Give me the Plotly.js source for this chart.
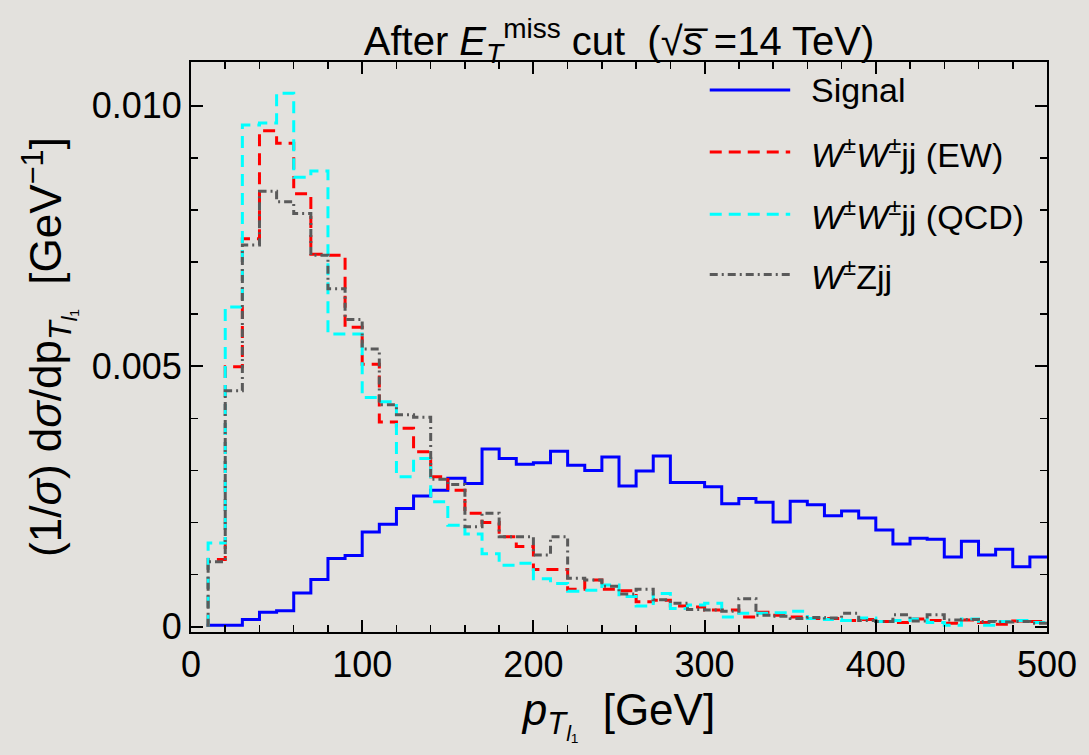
<!DOCTYPE html>
<html>
<head>
<meta charset="utf-8">
<script src="https://cdn.plot.ly/plotly-3.0.1.min.js"></script>
<style>
  html, body { margin: 0; padding: 0; background: #e3e1dd; }
  #chart { width: 1089px; height: 755px; }
</style>
</head>
<body>
<div id="chart"></div>
<script>
// Right edge of each 10 GeV bin of the leading-lepton pT histogram
const binRightEdges = [10, 20, 30, 40, 50, 60, 70, 80, 90, 100,
  110, 120, 130, 140, 150, 160, 170, 180, 190, 200,
  210, 220, 230, 240, 250, 260, 270, 280, 290, 300,
  310, 320, 330, 340, 350, 360, 370, 380, 390, 400,
  410, 420, 430, 440, 450, 460, 470, 480, 490, 500];

// Normalised distributions (1/sigma) dsigma/dpT [GeV^-1], one value per bin
const signal = [0, 0.00003, 0.00003, 0.00014, 0.00028, 0.00031, 0.00065, 0.00091, 0.00131, 0.00137,
  0.00182, 0.00197, 0.00227, 0.00251, 0.00262, 0.00285, 0.00275, 0.00341, 0.00323, 0.00312,
  0.00315, 0.00337, 0.00310, 0.00300, 0.00326, 0.00270, 0.00299, 0.00328, 0.00277, 0.00277,
  0.00269, 0.00236, 0.00246, 0.00239, 0.00201, 0.00241, 0.00234, 0.00213, 0.00222, 0.00209,
  0.00186, 0.00159, 0.00170, 0.00168, 0.00134, 0.00164, 0.00138, 0.00149, 0.00115, 0.00134];

const wwEW = [0, 0.00129, 0.00499, 0.00745, 0.00952, 0.00928, 0.00831, 0.00715, 0.00713, 0.00575,
  0.00504, 0.00393, 0.00381, 0.00336, 0.00288, 0.00262, 0.00218, 0.00200, 0.00173, 0.00154,
  0.00110, 0.00110, 0.00072, 0.00090, 0.00072, 0.00069, 0.00048, 0.00051, 0.00040, 0.00038,
  0.00032, 0.00032, 0.00019, 0.00028, 0.00022, 0.00019, 0.00016, 0.00016, 0.00012, 0.00014,
  0.00010, 0.00008, 0.00015, 0.00012, 0.00007, 0.00013, 0.00008, 0.00005, 0.00011, 0.00010];

const wwQCD = [0, 0.00161, 0.00614, 0.00963, 0.00967, 0.01024, 0.00863, 0.00875, 0.00562, 0.00562,
  0.00440, 0.00432, 0.00288, 0.00323, 0.00240, 0.00195, 0.00178, 0.00140, 0.00118, 0.00122,
  0.00092, 0.00083, 0.00068, 0.00070, 0.00080, 0.00058, 0.00040, 0.00064, 0.00035, 0.00042,
  0.00045, 0.00019, 0.00026, 0.00026, 0.00027, 0.00030, 0.00016, 0.00014, 0.00012, 0.00017,
  0.00010, 0.00012, 0.00015, 0.00008, 0.00003, 0.00015, 0.00003, 0.00010, 0.00012, 0.00008];

const wzJJ = [0, 0.00125, 0.00453, 0.00733, 0.00836, 0.00816, 0.00793, 0.00713, 0.00649, 0.00590,
  0.00533, 0.00426, 0.00407, 0.00402, 0.00283, 0.00273, 0.00192, 0.00218, 0.00173, 0.00173,
  0.00138, 0.00173, 0.00093, 0.00090, 0.00078, 0.00063, 0.00072, 0.00052, 0.00045, 0.00033,
  0.00032, 0.00030, 0.00054, 0.00022, 0.00020, 0.00016, 0.00018, 0.00017, 0.00026, 0.00012,
  0.00010, 0.00023, 0.00011, 0.00023, 0.00013, 0.00014, 0.00010, 0.00009, 0.00010, 0.00007];

const seriesNames = [
  'Signal',
  '<i>W</i><sup>±</sup><i>W</i><sup>±</sup>jj (EW)',
  '<i>W</i><sup>±</sup><i>W</i><sup>±</sup>jj (QCD)',
  '<i>W</i><sup>±</sup>Zjj'
];
const yTickVals = [0, 0.005, 0.010];
const yTickText = ['0', '0.005', '0.010'];

const FONT = 'Liberation Sans, Arial, Helvetica, sans-serif';

const styles = [
  { color: '#0000ff', width: 3, dash: 'solid' },
  { color: '#ff0000', width: 3, dash: '12px,7px' },
  { color: '#00ffff', width: 3, dash: '12px,7px' },
  { color: '#5a5a5a', width: 3, dash: '8px,4px,2px,4px' }
];
const series = [signal, wwEW, wwQCD, wzJJ];

// Step histograms: each y value is drawn flat over the bin ending at its x
const traces = series.map((vals, i) => ({
  type: 'scatter',
  mode: 'lines',
  x: binRightEdges,
  y: vals,
  line: { shape: 'vh', color: styles[i].color, width: styles[i].width, dash: styles[i].dash },
  showlegend: false,
  hoverinfo: 'skip'
}));

// Hand-built legend in the upper right corner (long line samples)
const legendRows = [0.951, 0.842, 0.733, 0.627];
const shapes = [];
const annotations = [];
legendRows.forEach((yy, i) => {
  shapes.push({
    type: 'line', xref: 'paper', yref: 'paper',
    x0: 0.606, x1: 0.700, y0: yy, y1: yy,
    line: { color: styles[i].color, width: styles[i].width, dash: styles[i].dash }
  });
  annotations.push({
    xref: 'paper', yref: 'paper', x: 0.722, y: yy,
    xanchor: 'left', yanchor: 'middle', showarrow: false,
    text: seriesNames[i],
    font: { family: FONT, size: 34, color: '#000' }
  });
});

const layout = {
  width: 1089,
  height: 755,
  paper_bgcolor: '#e3e1dd',
  plot_bgcolor: '#e3e1dd',
  margin: { l: 191, r: 42, t: 62, b: 123 },
  font: { family: FONT, color: '#000' },
  title: {
    text: 'After <i>E<sub>T</sub></i><sup>miss</sup> cut  (√<i>s̅</i> =14 TeV)',
    font: { family: FONT, size: 40, color: '#000' },
    x: 0.5, xref: 'paper', xanchor: 'center',
    y: 0.946, yref: 'container', yanchor: 'middle'
  },
  xaxis: {
    range: [0, 500],
    showgrid: false, zeroline: false,
    showline: true, linecolor: '#000', linewidth: 2, mirror: 'allticks',
    ticks: 'inside', ticklen: 12, tickwidth: 2, tickcolor: '#000',
    tick0: 0, dtick: 100,
    minor: { ticks: 'inside', tick0: 0, dtick: 20, ticklen: 7, tickwidth: 1.5, tickcolor: '#000' },
    tickfont: { family: FONT, size: 36, color: '#000' },
    title: {
      text: '<i>p</i><sub><i>T</i><sub><i>l</i>₁</sub></sub>  [GeV]',
      font: { family: FONT, size: 44, color: '#000' },
      standoff: 4
    }
  },
  yaxis: {
    range: [-0.0001, 0.01084],
    showgrid: false, zeroline: false,
    showline: true, linecolor: '#000', linewidth: 2, mirror: 'allticks',
    ticks: 'inside', ticklen: 12, tickwidth: 2, tickcolor: '#000',
    tickmode: 'array', tickvals: yTickVals, ticktext: yTickText,
    minor: { ticks: 'inside', tick0: 0, dtick: 0.001, ticklen: 7, tickwidth: 1.5, tickcolor: '#000' },
    tickfont: { family: FONT, size: 36, color: '#000' },
    title: {
      text: '(1/<i>σ</i>) d<i>σ</i>/dp<sub><i>T</i><sub><i>l</i>₁</sub></sub>  [GeV<sup>−1</sup>]',
      font: { family: FONT, size: 44, color: '#000' },
      standoff: 16
    }
  },
  shapes: shapes,
  annotations: annotations
};

Plotly.newPlot('chart', traces, layout, { displayModeBar: false, staticPlot: true });
</script>
</body>
</html>
